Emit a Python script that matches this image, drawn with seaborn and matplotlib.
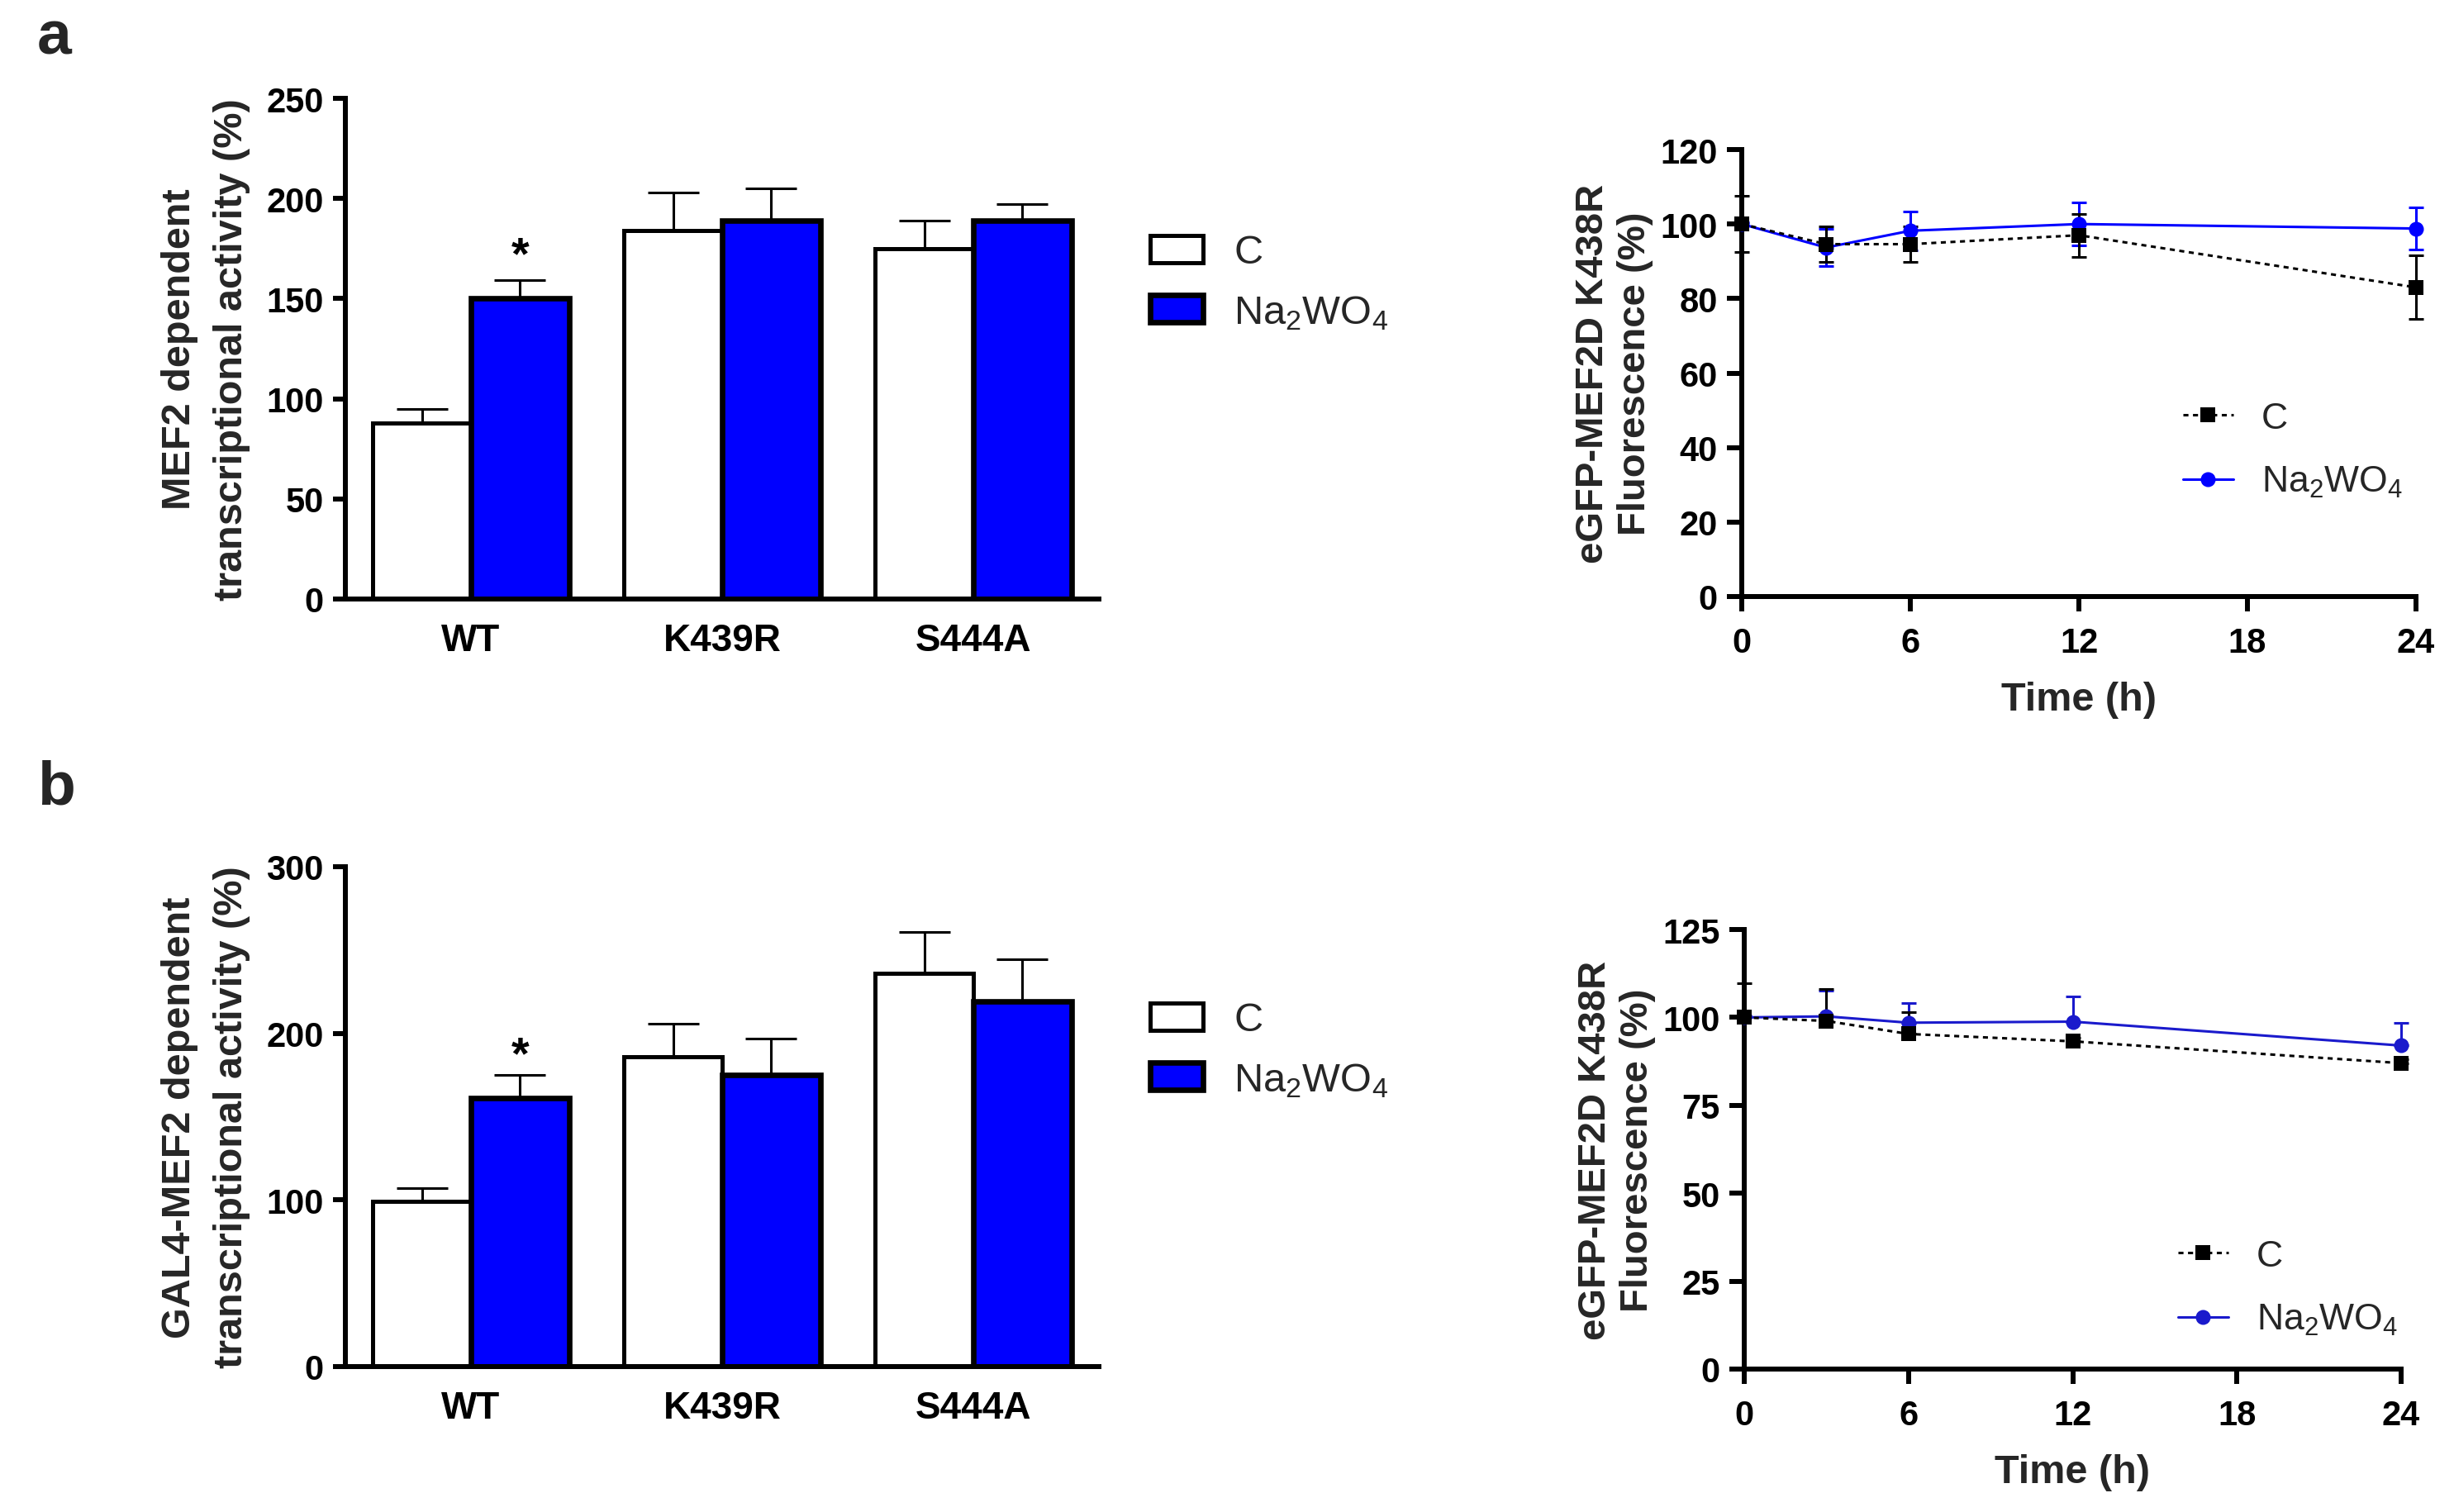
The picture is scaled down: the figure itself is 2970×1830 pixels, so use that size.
import matplotlib
matplotlib.use('Agg')
import matplotlib.pyplot as plt
from matplotlib.patches import Patch
from matplotlib.lines import Line2D
import numpy as np
import pandas as pd
import seaborn as sns

# ---------------- data ----------------
genotypes = ['WT', 'K439R', 'S444A']
treatments = ['C', 'Na$_\\mathregular{2}$WO$_\\mathregular{4}$']

# panel a, bars (MEF2 dependent transcriptional activity, %)
a_ctrl = [88, 184, 175]
a_ctrl_err = [6.8, 18.8, 13.8]
a_na = [150, 189, 189]
a_na_err = [9.4, 16, 8.3]

# panel b, bars (GAL4-MEF2 dependent transcriptional activity, %)
b_ctrl = [99, 186, 236]
b_ctrl_err = [8, 20, 25]
b_na = [161, 175, 219]
b_na_err = [14, 22, 25.6]

# time courses (eGFP-MEF2D K438R fluorescence, %)
times = [0, 3, 6, 12, 24]
ra_ctrl = [100, 94.6, 94.6, 97.0, 83.0]
ra_ctrl_err = [7.5, 4.7, 4.8, 5.8, 8.5]
ra_na = [100, 93.7, 98.2, 100.0, 98.8]
ra_na_err = [0.5, 5.0, 5.2, 5.8, 5.6]

rb_ctrl = [100, 99.0, 95.3, 93.2, 87.0]
rb_ctrl_err = [9.7, 9.0, 6.3, 1.0, 1.0]
rb_na = [100, 100.3, 98.5, 98.8, 92.0]
rb_na_err = [0.5, 7.4, 5.7, 7.2, 6.5]

bar_yticks_a = [0, 50, 100, 150, 200, 250]
bar_yticks_b = [0, 100, 200, 300]
line_xticks = [0, 6, 12, 18, 24]
line_yticks_a = [0, 20, 40, 60, 80, 100, 120]
line_yticks_b = [0, 25, 50, 75, 100, 125]

# ---------------- style ----------------
sns.set_theme(style='ticks')
plt.rcParams['font.family'] = ['Liberation Sans', 'DejaVu Sans']
plt.rcParams['mathtext.fontset'] = 'custom'
plt.rcParams['mathtext.rm'] = 'Liberation Sans'
plt.rcParams['mathtext.it'] = 'Liberation Sans:italic'
plt.rcParams['mathtext.bf'] = 'Liberation Sans:bold'
plt.rcParams['axes.facecolor'] = 'white'
plt.rcParams['figure.facecolor'] = 'white'

W, H = 2970, 1831
fig = plt.figure(figsize=(W / 100, H / 100), dpi=100)


def rect(l, t, r, b):
    return [l / W, 1 - b / H, (r - l) / W, (b - t) / H]


BLUE = '#0000FF'
AXW = 4.3
W_EDGE = 3.6
B_EDGE = 4.8


def base_style(ax, ticklen):
    for s in ['top', 'right']:
        ax.spines[s].set_visible(False)
    for s in ['left', 'bottom']:
        ax.spines[s].set_linewidth(AXW)
        ax.spines[s].set_color('black')
    ax.tick_params(axis='both', width=AXW, length=ticklen, color='black',
                   labelcolor='black', direction='out')
    ax.grid(False)


def bar_panel(rp, ctrl, ctrl_err, na, na_err, ymax, yticks, ylabel, ast_off, leg_left, leg_cy):
    ax = fig.add_axes(rect(*rp))
    df = pd.DataFrame({
        'genotype': genotypes * 2,
        'treatment': [treatments[0]] * len(genotypes) + [treatments[1]] * len(genotypes),
        'value': ctrl + na,
    })
    sns.barplot(data=df, x='genotype', y='value', hue='treatment', order=genotypes,
                hue_order=treatments, palette={treatments[0]: 'white', treatments[1]: BLUE},
                edgecolor='black', width=0.78, errorbar=None, saturation=1,
                legend=False, ax=ax, zorder=2)
    lws = [W_EDGE, B_EDGE]
    for cont, errs, lw in zip(ax.containers, [ctrl_err, na_err], lws):
        xs, ys = [], []
        for bar in cont:
            bar.set_linewidth(lw)
            bar.set_edgecolor('black')
            xs.append(bar.get_x() + bar.get_width() / 2)
            ys.append(bar.get_height())
        ax.errorbar(xs, ys, yerr=[np.zeros(len(errs)), errs], fmt='none', ecolor='black',
                    elinewidth=2.2, capsize=22, capthick=2.2, zorder=1)
    # significance star above WT + Na2WO4
    nb = ax.containers[1][0]
    ax.annotate('*', xy=(nb.get_x() + nb.get_width() / 2, na[0] + na_err[0]),
                xytext=(0, ast_off), textcoords='offset points', ha='center',
                va='baseline', fontsize=40, fontweight='bold', color='black')
    base_style(ax, 11)
    ax.set_xlim(-0.5, len(genotypes) - 0.5)
    ax.set_ylim(0, ymax)
    ax.set_yticks(yticks, [str(v) for v in yticks], fontsize=30, fontweight='bold')
    ax.set_xticks(range(len(genotypes)), genotypes, fontsize=33, fontweight='bold')
    ax.tick_params(axis='x', length=0, pad=20)
    ax.tick_params(axis='y', pad=8)
    ax.set_xlabel('')
    ax.set_ylabel(ylabel, fontsize=35, fontweight='bold', labelpad=14, linespacing=1.5)
    handles = [Patch(facecolor='white', edgecolor='black', linewidth=W_EDGE),
               Patch(facecolor=BLUE, edgecolor='black', linewidth=B_EDGE)]
    fig.legend(handles, treatments, loc='center left',
               bbox_to_anchor=(leg_left / W, 1 - leg_cy / H), bbox_transform=fig.transFigure,
               frameon=False, fontsize=35, handlelength=1.32, handleheight=0.66,
               handletextpad=0.76, labelspacing=0.55, borderpad=0, borderaxespad=0)
    return ax


def line_panel(rp, ctrl, ctrl_err, na, na_err, ymax, yticks, two_sided, color, leg_left, leg_cy):
    ax = fig.add_axes(rect(*rp))
    df = pd.DataFrame({
        'time': times * 2,
        'value': ctrl + na,
        'treatment': [treatments[0]] * len(times) + [treatments[1]] * len(times),
    })
    pal = {treatments[0]: 'black', treatments[1]: color}
    dash = (2, 1.8)
    # Na2WO4 first, control on top
    for t in [treatments[1], treatments[0]]:
        sub = df[df['treatment'] == t]
        sns.lineplot(data=sub, x='time', y='value', color=pal[t],
                     marker='s' if t == treatments[0] else 'o',
                     dashes=False, linewidth=2.2, markersize=13, markeredgewidth=0,
                     errorbar=None, ax=ax, clip_on=False, zorder=4, legend=False,
                     linestyle=(0, dash) if t == treatments[0] else '-')
    for vals, errs, c in [(na, na_err, color), (ctrl, ctrl_err, 'black')]:
        if two_sided:
            yerr = errs
        else:
            yerr = [np.zeros(len(errs)), errs]
        ax.errorbar(times, vals, yerr=yerr, fmt='none', ecolor=c, elinewidth=2.2,
                    capsize=6.5, capthick=2.2, clip_on=False, zorder=3)
    base_style(ax, 13)
    ax.set_xlim(0, 24)
    ax.set_ylim(0, ymax)
    ax.set_xticks(line_xticks, [str(v) for v in line_xticks], fontsize=30, fontweight='bold')
    ax.set_yticks(yticks, [str(v) for v in yticks], fontsize=30, fontweight='bold')
    ax.tick_params(axis='x', pad=13)
    ax.tick_params(axis='y', pad=8)
    ax.set_xlabel('Time (h)', fontsize=35, fontweight='bold', labelpad=19)
    ax.set_ylabel('eGFP-MEF2D K438R\nFluorescence (%)', fontsize=34, fontweight='bold',
                  labelpad=6, linespacing=1.2)
    handles = [Line2D([], [], color='black', linestyle=(0, dash), linewidth=2.2, marker='s',
                      markersize=13, markeredgewidth=0),
               Line2D([], [], color=color, linestyle='-', linewidth=2.2, marker='o',
                      markersize=13, markeredgewidth=0)]
    fig.legend(handles, treatments, loc='center left',
               bbox_to_anchor=(leg_left / W, 1 - leg_cy / H), bbox_transform=fig.transFigure,
               frameon=False, fontsize=32, handlelength=1.37, handletextpad=0.77,
               labelspacing=0.8, borderpad=0, borderaxespad=0)
    return ax


bar_panel((418, 120, 1330, 726), a_ctrl, a_ctrl_err, a_na, a_na_err, 250, bar_yticks_a,
          'MEF2 dependent\ntranscriptional activity (%)', 10, 1392, 343)
bar_panel((418, 1050, 1330, 1655), b_ctrl, b_ctrl_err, b_na, b_na_err, 300, bar_yticks_b,
          'GAL4-MEF2 dependent\ntranscriptional activity (%)', 6, 1392, 1272)
line_panel((2108, 182, 2924, 723), ra_ctrl, ra_ctrl_err, ra_na, ra_na_err, 120, line_yticks_a,
           True, BLUE, 2642, 546)
line_panel((2111, 1126, 2906, 1658), rb_ctrl, rb_ctrl_err, rb_na, rb_na_err, 125, line_yticks_b,
           False, '#1a1acc', 2636, 1560)

fig.text(45 / W, 1 - 65 / H, 'a', fontsize=54, fontweight='bold', ha='left', va='baseline')
fig.text(45 / W, 1 - 974 / H, 'b', fontsize=54, fontweight='bold', ha='left', va='baseline')

fig.savefig('out.png', dpi=100, facecolor='white')
